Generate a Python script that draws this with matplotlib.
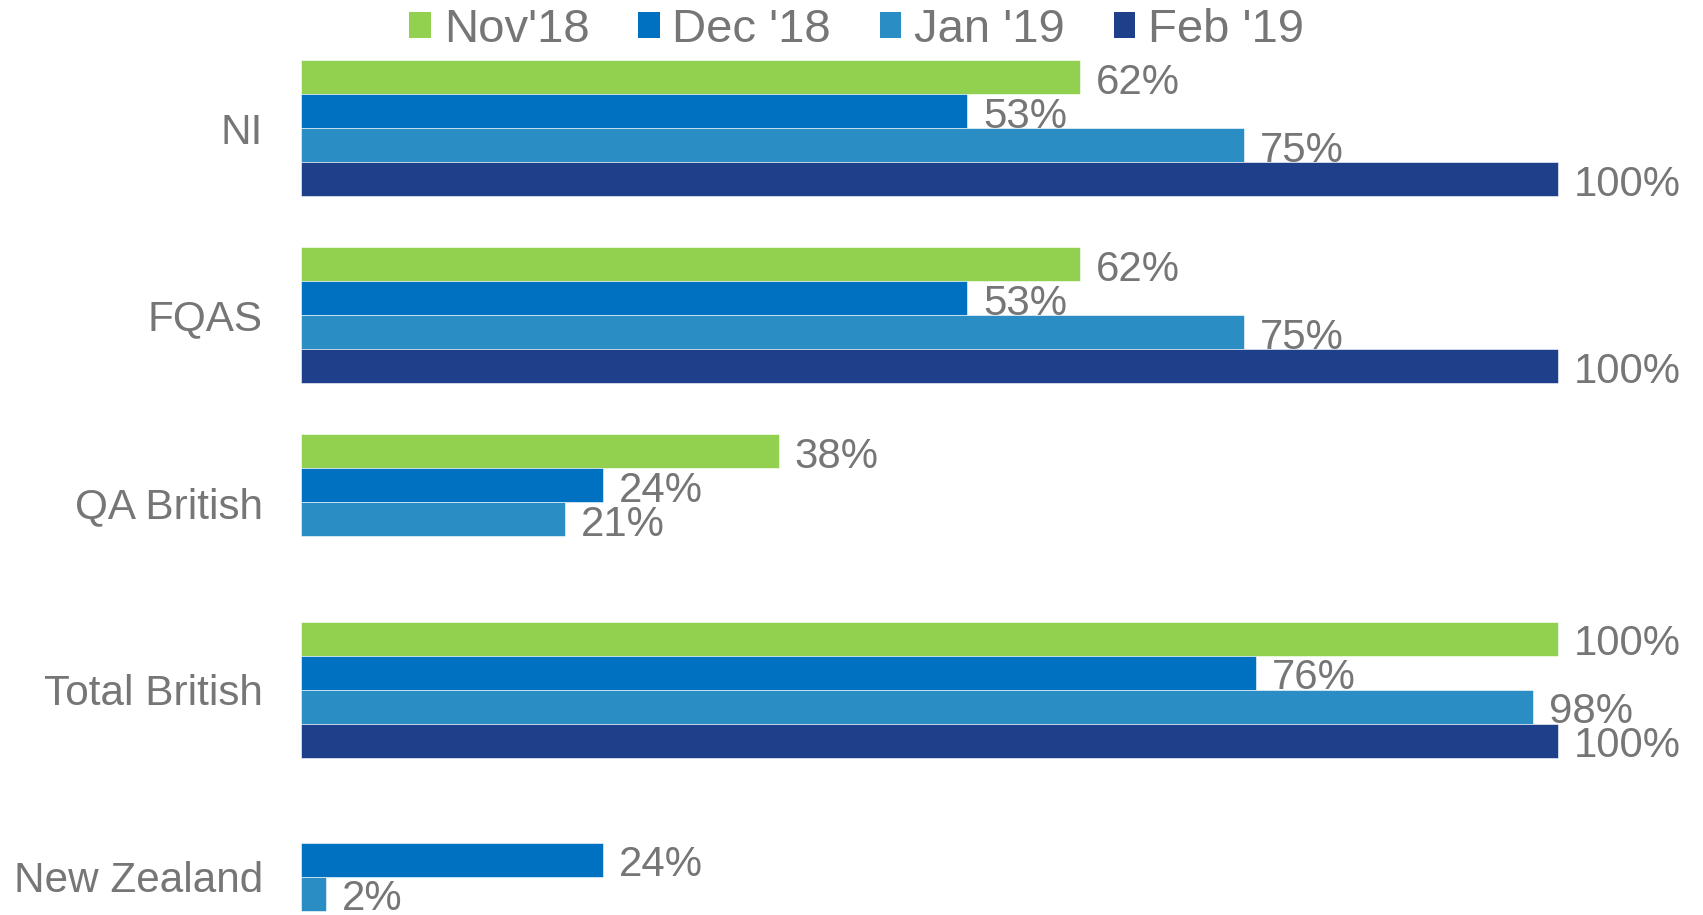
import numpy as np
import matplotlib
matplotlib.use("Agg")
import matplotlib.pyplot as plt
from matplotlib.patches import Patch

categories = ["NI", "FQAS", "QA British", "Total British", "New Zealand"]
series_names = ["Nov'18", "Dec '18", "Jan '19", "Feb '19"]
nov18 = [62, 62, 38, 100, np.nan]
dec18 = [53, 53, 24, 76, 24]
jan19 = [75, 75, 21, 98, 2]
feb19 = [100, 100, np.nan, 100, np.nan]
series = [nov18, dec18, jan19, feb19]
colors = ["#92D050", "#0070C0", "#2A8DC3", "#1E3F89"]
text_color = "#767676"

plt.rcParams['font.family'] = ['Liberation Sans', 'DejaVu Sans']

W, H = 1703, 915
fig = plt.figure(figsize=(W / 100, H / 100), dpi=100)
x0, x1 = 301, 1558
ax = fig.add_axes([x0 / W, 0, (x1 - x0) / W, 1])

step = 187.2
c0 = 128
ax.set_xlim(0, 100)
ax.set_ylim((H - c0) / step, -c0 / step)

h = 34 / step
y = np.arange(len(categories))
for i, (vals, col) in enumerate(zip(series, colors)):
    pos = y + (i - 1.5) * h
    ax.barh(pos, vals, height=h, color=col, edgecolor='white', linewidth=0.4, clip_on=False)
    for p, v in zip(pos, vals):
        if not np.isnan(v):
            ax.text(v + 16 / 12.57, p + 0.03, f"{v:.0f}%", va='center', ha='left',
                    fontsize=30.2, color=text_color, clip_on=False)

ax.set_yticks(y)
ax.set_yticklabels(categories, fontsize=30.4, color=text_color)
ax.tick_params(axis='y', length=0, pad=27.5)
ax.set_xticks([])
for s in ax.spines.values():
    s.set_visible(False)

handles = [Patch(facecolor=c, edgecolor='none') for c in colors]
fig.legend(handles, series_names, loc='center', bbox_to_anchor=(0.503, 1 - 30 / H), ncol=4,
           frameon=False, fontsize=34, labelcolor=text_color, handlelength=0.46, handleheight=0.46,
           handletextpad=0.27, columnspacing=1.03, borderpad=0, borderaxespad=0)

fig.savefig("out.png", dpi=100)
